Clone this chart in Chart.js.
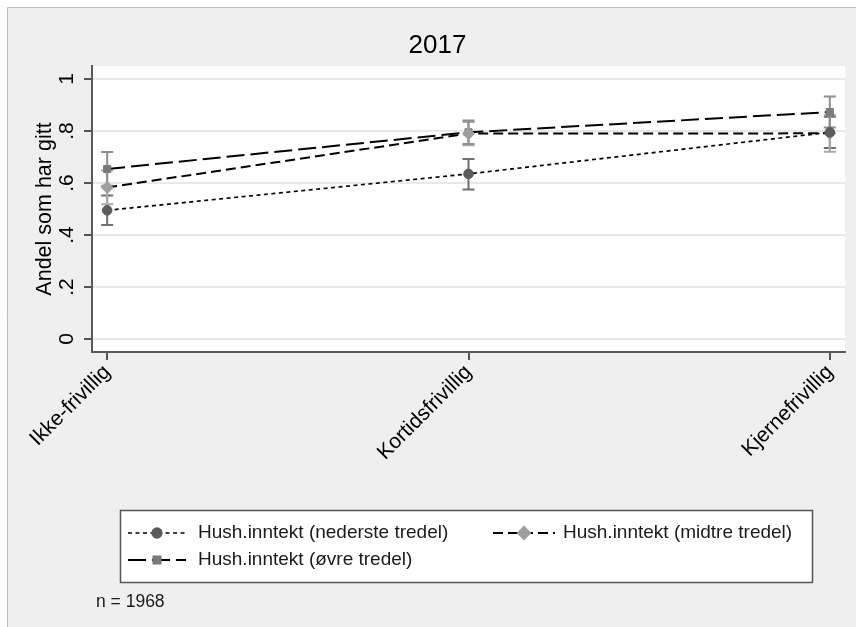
<!DOCTYPE html>
<html>
<head>
<meta charset="utf-8">
<script src="https://cdn.jsdelivr.net/npm/chart.js@4/dist/chart.umd.min.js"></script>
<style>
html, body { margin: 0; padding: 0; background: #fff; }
#wrap { width: 856px; height: 627px; }
</style>
</head>
<body>
<div id="wrap"><canvas id="graf"></canvas></div>
<script>
// Data lest av figuren
const kategorier = ['Ikke-frivillig', 'Kortidsfrivillig', 'Kjernefrivillig'];
const yTicks = [0, 0.2, 0.4, 0.6, 0.8, 1];
const yTickLabels = ['0', '.2', '.4', '.6', '.8', '1'];

const nederste = [0.495, 0.635, 0.795];
const nederste_lav = [0.438, 0.575, 0.735];
const nederste_hoy = [0.552, 0.692, 0.855];

const midtre = [0.583, 0.790, 0.791];
const midtre_lav = [0.518, 0.745, 0.720];
const midtre_hoy = [0.648, 0.835, 0.862];

const ovre = [0.654, 0.795, 0.873];
const ovre_lav = [0.589, 0.750, 0.813];
const ovre_hoy = [0.719, 0.840, 0.933];

const FONT = '"Liberation Sans", Arial, Helvetica, sans-serif';

const punkter = arr => arr.map((v, i) => ({ x: i, y: v }));

const serier = [
    { label: 'Hush.inntekt (nederste tredel)', data: nederste, lav: nederste_lav, hoy: nederste_hoy,
      dash: [4, 3.5], width: 1.7, style: 'circle', radius: 4.8, farge: '#5b5b5b', ci: '#707070' },
    { label: 'Hush.inntekt (midtre tredel)', data: midtre, lav: midtre_lav, hoy: midtre_hoy,
      dash: [10, 5], width: 2, style: 'rectRot', radius: 6, farge: '#9e9e9e', ci: '#a8a8a8' },
    { label: 'Hush.inntekt (øvre tredel)', data: ovre, lav: ovre_lav, hoy: ovre_hoy,
      dash: [18, 6], width: 2, style: 'rect', radius: 5, farge: '#7a7a7a', ci: '#8e8e8e' }
];

// Bakgrunn og ramme
const bakgrunn = {
    id: 'bakgrunn',
    beforeDraw(chart) {
        const ctx = chart.ctx, a = chart.chartArea;
        ctx.save();
        ctx.fillStyle = '#fff';
        ctx.fillRect(0, 0, chart.width, chart.height);
        ctx.fillStyle = '#efefef';
        ctx.fillRect(7, 7, chart.width - 7, chart.height - 7);
        ctx.strokeStyle = '#bdbdbd';
        ctx.lineWidth = 1;
        ctx.beginPath();
        ctx.moveTo(7.5, chart.height);
        ctx.lineTo(7.5, 7.5);
        ctx.lineTo(chart.width, 7.5);
        ctx.stroke();
        ctx.fillStyle = '#fff';
        ctx.fillRect(a.left, a.top, a.right - a.left, a.bottom - a.top);
        ctx.restore();
    }
};

// Konfidensintervaller
const feilstolper = {
    id: 'feilstolper',
    beforeDatasetsDraw(chart) {
        const ctx = chart.ctx, xs = chart.scales.x, ys = chart.scales.y;
        ctx.save();
        ctx.lineWidth = 2;
        serier.forEach(s => {
            ctx.strokeStyle = s.ci;
            s.data.forEach((v, i) => {
                const x = xs.getPixelForValue(i);
                const y1 = ys.getPixelForValue(s.lav[i]);
                const y2 = ys.getPixelForValue(s.hoy[i]);
                ctx.beginPath();
                ctx.moveTo(x, y1); ctx.lineTo(x, y2);
                ctx.moveTo(x - 6, y1); ctx.lineTo(x + 6, y1);
                ctx.moveTo(x - 6, y2); ctx.lineTo(x + 6, y2);
                ctx.stroke();
            });
        });
        ctx.restore();
    }
};

// Roterte y-etiketter, forklaring og note
const tekster = {
    id: 'tekster',
    afterDraw(chart) {
        const ctx = chart.ctx, ys = chart.scales.y;
        ctx.save();
        ctx.fillStyle = '#000';
        ctx.font = '21px ' + FONT;
        ctx.textAlign = 'center';
        ctx.textBaseline = 'alphabetic';
        yTicks.forEach((v, i) => {
            ctx.save();
            ctx.translate(73, ys.getPixelForValue(v));
            ctx.rotate(-Math.PI / 2);
            ctx.fillText(yTickLabels[i], 0, 0);
            ctx.restore();
        });

        // forklaring
        ctx.fillStyle = '#fff';
        ctx.fillRect(120, 510, 692, 72);
        ctx.strokeStyle = '#555';
        ctx.lineWidth = 1.5;
        ctx.strokeRect(120.5, 510.5, 692, 72);
        const plass = [
            { sx: 128, ex: 186, tx: 198, y: 533 },
            { sx: 493, ex: 555, tx: 563, y: 533 },
            { sx: 128, ex: 186, tx: 198, y: 560 }
        ];
        serier.forEach((s, i) => {
            const p = plass[i];
            ctx.save();
            ctx.strokeStyle = '#000';
            ctx.lineWidth = s.width;
            ctx.setLineDash(s.dash);
            ctx.beginPath();
            ctx.moveTo(p.sx, p.y); ctx.lineTo(p.ex, p.y);
            ctx.stroke();
            ctx.setLineDash([]);
            ctx.fillStyle = s.farge;
            ctx.strokeStyle = s.farge;
            Chart.helpers.drawPoint(ctx, { pointStyle: s.style, radius: s.radius, borderWidth: 1, rotation: 0 },
                (p.sx + p.ex) / 2, p.y);
            ctx.restore();
            ctx.fillStyle = '#1a1a1a';
            ctx.font = '19px ' + FONT;
            ctx.textAlign = 'left';
            ctx.textBaseline = 'middle';
            ctx.fillText(s.label, p.tx, p.y);
        });

        ctx.fillStyle = '#1a1a1a';
        ctx.font = '17.5px ' + FONT;
        ctx.textAlign = 'left';
        ctx.textBaseline = 'middle';
        ctx.fillText('n = 1968', 96, 602);
        ctx.restore();
    }
};

new Chart(document.getElementById('graf'), {
    type: 'line',
    data: {
        datasets: serier.map(s => ({
            label: s.label,
            data: punkter(s.data),
            borderColor: '#000',
            borderWidth: s.width,
            borderDash: s.dash,
            fill: false,
            tension: 0,
            pointStyle: s.style,
            pointRadius: s.radius,
            pointBackgroundColor: s.farge,
            pointBorderColor: s.farge,
            pointBorderWidth: 1
        }))
    },
    options: {
        responsive: true,
        maintainAspectRatio: false,
        animation: false,
        layout: { padding: { top: 30, left: 30, right: 11, bottom: 0 } },
        plugins: {
            legend: { display: false },
            tooltip: { enabled: false },
            title: {
                display: true,
                text: '2017',
                color: '#000',
                font: { family: FONT, size: 26, weight: 'normal' },
                padding: { top: 0, bottom: 4.8 }
            }
        },
        scales: {
            x: {
                type: 'linear',
                min: -0.042,
                max: 2.042,
                afterBuildTicks: s => { s.ticks = kategorier.map((k, i) => ({ value: i })); },
                afterFit: s => { s.height = 275; },
                ticks: {
                    callback: v => kategorier[v],
                    minRotation: 45,
                    maxRotation: 45,
                    color: '#000',
                    font: { family: FONT, size: 21 },
                    padding: 0
                },
                grid: { drawOnChartArea: false, tickLength: 8, tickColor: '#555', lineWidth: 2 },
                border: { color: '#5a5a5a', width: 2 }
            },
            y: {
                min: -0.05,
                max: 1.05,
                afterBuildTicks: s => { s.ticks = yTicks.map(v => ({ value: v })); },
                afterFit: s => { s.width = 62; },
                ticks: { display: false },
                grid: { color: '#e8e8e8', lineWidth: 2, tickLength: 8, tickColor: '#555' },
                border: { color: '#5a5a5a', width: 2 },
                title: {
                    display: true,
                    text: 'Andel som har gitt',
                    color: '#000',
                    font: { family: FONT, size: 21.5 },
                    padding: { top: 2, bottom: 0 }
                }
            }
        }
    },
    plugins: [bakgrunn, feilstolper, tekster]
});
</script>
</body>
</html>
